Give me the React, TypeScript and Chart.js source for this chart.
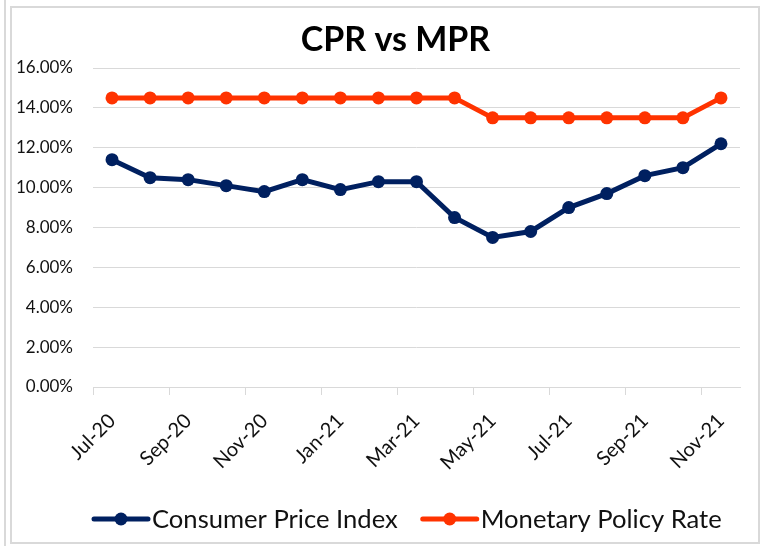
import React, { useEffect, useRef } from 'react';
import { Chart, registerables } from 'chart.js';

Chart.register(...registerables);

const months = [
  'Jul-20', 'Aug-20', 'Sep-20', 'Oct-20', 'Nov-20', 'Dec-20',
  'Jan-21', 'Feb-21', 'Mar-21', 'Apr-21', 'May-21', 'Jun-21',
  'Jul-21', 'Aug-21', 'Sep-21', 'Oct-21', 'Nov-21',
];
const cpi = [11.4, 10.5, 10.4, 10.1, 9.8, 10.4, 9.9, 10.3, 10.3, 8.5, 7.5, 7.8, 9.0, 9.7, 10.6, 11.0, 12.2];
const mpr = [14.5, 14.5, 14.5, 14.5, 14.5, 14.5, 14.5, 14.5, 14.5, 14.5, 13.5, 13.5, 13.5, 13.5, 13.5, 13.5, 14.5];
const seriesNames = ['Consumer Price Index', 'Monetary Policy Rate'];
const titleText = 'CPR vs MPR';
const yMin = 0;
const yMax = 16;
const yStep = 2;

const NAVY = '#002060';
const RED = '#FF3300';
const GRID = '#d9d9d9';
const FONT = 'Lato, "Open Sans", sans-serif';

// Draws the title (offset to the right like the reference) and the line-style legend.
const titleAndLegend = {
  id: 'titleAndLegend',
  afterDraw(chart: any) {
    const { ctx, chartArea } = chart;
    ctx.save();
    // title
    ctx.font = `bold 34px ${FONT}`;
    ctx.fillStyle = '#000';
    ctx.textAlign = 'center';
    ctx.textBaseline = 'middle';
    ctx.fillText(titleText, (chartArea.left + chartArea.right) / 2 - 21, 40);

    // legend
    const y = chart.height - 27;
    let x = chartArea.left - 1;
    ctx.font = `25.6px ${FONT}`;
    ctx.textBaseline = 'middle';
    ctx.textAlign = 'left';
    chart.data.datasets.forEach((ds: any) => {
      ctx.strokeStyle = ds.borderColor;
      ctx.fillStyle = ds.borderColor;
      ctx.lineWidth = 5;
      ctx.lineCap = 'round';
      ctx.beginPath();
      ctx.moveTo(x + 2, y);
      ctx.lineTo(x + 56, y);
      ctx.stroke();
      ctx.beginPath();
      ctx.arc(x + 29, y, 6.5, 0, Math.PI * 2);
      ctx.fill();
      ctx.fillStyle = '#111';
      ctx.fillText(ds.label, x + 60, y + 1);
      x += 60 + ctx.measureText(ds.label).width + 23;
    });
    ctx.restore();
  },
};

export default function App() {
  const canvasRef = useRef<HTMLCanvasElement | null>(null);

  useEffect(() => {
    let chart: Chart | null = null;
    let cancelled = false;
    const make = () => {
      if (cancelled || !canvasRef.current) return;
      chart = new Chart(canvasRef.current, {
        type: 'line',
        data: {
          labels: months,
          datasets: [
            {
              label: seriesNames[0],
              data: cpi,
              borderColor: NAVY,
              backgroundColor: NAVY,
              borderWidth: 5,
              pointRadius: 6.5,
              pointBorderWidth: 0,
              pointBackgroundColor: NAVY,
              tension: 0,
            },
            {
              label: seriesNames[1],
              data: mpr,
              borderColor: RED,
              backgroundColor: RED,
              borderWidth: 5,
              pointRadius: 6.5,
              pointBorderWidth: 0,
              pointBackgroundColor: RED,
              tension: 0,
            },
          ],
        },
        options: {
          animation: false,
          responsive: false,
          maintainAspectRatio: false,
          devicePixelRatio: 1,
          layout: { padding: { left: 10, right: 24, top: 68, bottom: 48 } },
          plugins: {
            legend: { display: false },
            tooltip: { enabled: false },
            title: { display: false },
          },
          scales: {
            x: {
              offset: true,
              grid: {
                offset: true,
                drawOnChartArea: false,
                drawTicks: true,
                tickLength: 8,
                lineWidth: 1,
                color: (c: any) => (c.index % 2 === 0 && c.index < months.length ? GRID : 'rgba(0,0,0,0)'),
              },
              border: { display: true, color: GRID, width: 1 },
              ticks: {
                autoSkip: false,
                minRotation: 45,
                maxRotation: 45,
                padding: 14,
                color: '#111',
                font: { family: FONT, size: 20 },
                callback: (_v: any, i: number) => (i % 2 === 0 ? months[i] : ''),
              },
              afterFit: (s: any) => {
                s.height = 111;
              },
            },
            y: {
              min: yMin,
              max: yMax,
              grid: { color: GRID, lineWidth: 1, drawTicks: false },
              border: { display: false },
              ticks: {
                stepSize: yStep,
                padding: 20,
                color: '#111',
                font: { family: FONT, size: 17 },
                callback: (v: any) => Number(v).toFixed(2) + '%',
              },
              afterFit: (s: any) => {
                s.width = 83;
              },
            },
          },
        },
        plugins: [titleAndLegend],
      });
    };
    const fontsApi = (document as any).fonts;
    if (fontsApi && fontsApi.load) {
      Promise.all([
        fontsApi.load(`15px Lato`),
        fontsApi.load(`bold 32px Lato`),
      ]).then(make, make);
    } else {
      make();
    }
    return () => {
      cancelled = true;
      if (chart) chart.destroy();
    };
  }, []);

  return (
    <div style={{ position: 'fixed', left: 0, top: 0, width: 764, height: 546, background: '#fff', overflow: 'hidden' }}>
      <div style={{ position: 'absolute', left: 4, top: 0, width: 2, height: 546, background: GRID }} />
      <div
        style={{
          position: 'absolute',
          left: 10,
          top: 6,
          width: 746,
          height: 534,
          border: `2px solid ${GRID}`,
        }}
      />
      <canvas
        ref={canvasRef}
        width={764}
        height={546}
        style={{ position: 'absolute', left: 0, top: 0, width: 764, height: 546 }}
      />
    </div>
  );
}
